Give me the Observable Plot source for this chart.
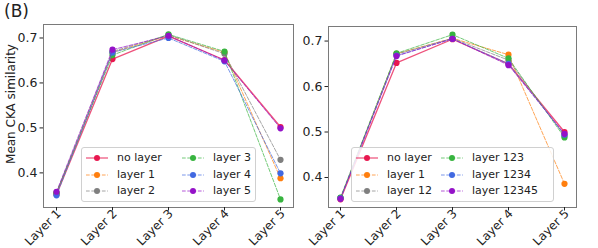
<!DOCTYPE html>
<html>
<head>
<meta charset="utf-8">
<script src="https://cdn.jsdelivr.net/npm/d3@7"></script>
<script src="https://cdn.jsdelivr.net/npm/@observablehq/plot@0.6"></script>
<style>
  html, body { margin: 0; padding: 0; background: #fff; }
  #wrap { position: relative; width: 598px; height: 248px; font-family: "DejaVu Sans", sans-serif; color: #222; overflow: hidden; }
  .panel { position: absolute; top: 0; }
  .legend { position: absolute; border: 1px solid #d0d0d0; border-radius: 3px; background: rgba(255,255,255,0.85); box-sizing: border-box; }
  .entry { position: absolute; font-size: 11px; line-height: 12px; white-space: nowrap; }
  .entry svg { position: absolute; left: 0; top: 1px; }
  .entry span { position: absolute; top: 0; }
</style>
</head>
<body>
<div id="wrap"></div>
<script>
// ---- data ----
const layers = ["Layer 1", "Layer 2", "Layer 3", "Layer 4", "Layer 5"];
const yTicks = [0.4, 0.5, 0.6, 0.7];

// left panel (single layer ablations)
const leftNames = ["no layer", "layer 1", "layer 2", "layer 3", "layer 4", "layer 5"];
const leftNoLayer = [0.352, 0.653, 0.704, 0.651, 0.502];
const leftLayer1  = [0.354, 0.668, 0.705, 0.668, 0.388];
const leftLayer2  = [0.356, 0.670, 0.707, 0.665, 0.429];
const leftLayer3  = [0.355, 0.662, 0.708, 0.670, 0.341];
const leftLayer4  = [0.350, 0.668, 0.700, 0.648, 0.399];
const leftLayer5  = [0.358, 0.674, 0.705, 0.650, 0.499];

// right panel (cumulative ablations)
const rightNames = ["no layer", "layer 1", "layer 12", "layer 123", "layer 1234", "layer 12345"];
const rightNoLayer    = [0.352, 0.652, 0.704, 0.650, 0.500];
const rightLayer1     = [0.354, 0.672, 0.706, 0.670, 0.386];
const rightLayer12    = [0.355, 0.671, 0.706, 0.658, 0.492];
const rightLayer123   = [0.356, 0.673, 0.714, 0.662, 0.488];
const rightLayer1234  = [0.354, 0.668, 0.705, 0.650, 0.494];
const rightLayer12345 = [0.353, 0.667, 0.705, 0.647, 0.496];

const colors = ["#e8174f", "#ff7f0e", "#7f7f7f", "#37b43f", "#4169e1", "#9412c8"];
const solid = [true, false, false, false, false, false];

const wrap = document.getElementById("wrap");

function table(names, series) {
  const rows = [];
  names.forEach((n, i) => series[i].forEach((v, j) => rows.push({series: n, layer: layers[j], value: v})));
  return rows;
}

function panel(names, series, opts) {
  const data = table(names, series);
  const marks = [Plot.frame({stroke: "#7a7a7a", strokeWidth: 1})];
  names.forEach((n, i) => {
    const d = data.filter(r => r.series === n);
    marks.push(Plot.line(d, {x: "layer", y: "value", stroke: colors[i], strokeOpacity: solid[i] ? 0.75 : 0.7,
      strokeWidth: solid[i] ? 1.3 : 1, strokeDasharray: solid[i] ? null : "3.7,1.6"}));
    marks.push(Plot.dot(d, {x: "layer", y: "value", fill: colors[i], r: 3.1, stroke: "none"}));
  });
  marks.push(Plot.axisY({ticks: yTicks, tickFormat: d3.format(".1f"), tickSize: 3.5, tickPadding: 2.5, fontSize: 12.5, label: null}));
  // tick marks only
  marks.push(Plot.axisX({tickSize: 3.5, tickFormat: () => "", label: null}));
  // rotated labels only
  marks.push(Plot.axisX({tickRotate: -45, tickSize: 0, tickPadding: 4.2, dx: 2.4, fontSize: 12, label: null}));
  return Plot.plot({
    width: opts.width, height: 248,
    marginLeft: opts.ml, marginRight: opts.mr, marginTop: opts.mt, marginBottom: opts.mb,
    x: {type: "point", domain: layers, padding: 0.2},
    y: {domain: opts.ydom},
    style: {fontFamily: "DejaVu Sans, sans-serif", color: "#222", background: "transparent", overflow: "visible"},
    marks
  });
}

function legend(names, box, cols) {
  const lg = document.createElement("div");
  lg.className = "legend";
  Object.assign(lg.style, {left: box.x + "px", top: box.y + "px", width: box.w + "px", height: box.h + "px"});
  names.forEach((n, i) => {
    const col = Math.floor(i / 3), row = i % 3;
    const e = document.createElement("div");
    e.className = "entry";
    e.style.left = cols[col] + "px";
    e.style.top = (4 + row * 16.6) + "px";
    const svg = d3.create("svg").attr("width", 24).attr("height", 10);
    svg.append("line").attr("x1", 0).attr("x2", 22).attr("y1", 5).attr("y2", 5)
      .attr("stroke", colors[i]).attr("stroke-opacity", 0.7).attr("stroke-width", solid[i] ? 1.3 : 1)
      .attr("stroke-dasharray", solid[i] ? null : "3.7,1.6");
    svg.append("circle").attr("cx", 11).attr("cy", 5).attr("r", 3).attr("fill", colors[i]);
    e.appendChild(svg.node());
    const s = document.createElement("span");
    s.textContent = n;
    s.style.left = "31px";
    e.appendChild(s);
    lg.appendChild(e);
  });
  return lg;
}

// left panel
const left = panel(leftNames, [leftNoLayer, leftLayer1, leftLayer2, leftLayer3, leftLayer4, leftLayer5],
  {width: 300, ml: 43, mr: 7, mt: 24, mb: 41, ydom: [0.323, 0.730]});
const lp = document.createElement("div"); lp.className = "panel"; lp.style.left = "0px";
lp.appendChild(left); wrap.appendChild(lp);

// right panel
const right = panel(rightNames, [rightNoLayer, rightLayer1, rightLayer12, rightLayer123, rightLayer1234, rightLayer12345],
  {width: 298, ml: 28, mr: 22, mt: 26, mb: 41, ydom: [0.334, 0.732]});
const rp = document.createElement("div"); rp.className = "panel"; rp.style.left = "300px";
rp.appendChild(right); wrap.appendChild(rp);

wrap.appendChild(legend(leftNames, {x: 81, y: 147, w: 175, h: 55}, [4, 100]));
wrap.appendChild(legend(rightNames, {x: 351, y: 147, w: 203, h: 55}, [4, 89]));

// y label
const yl = document.createElement("div");
yl.textContent = "Mean CKA similarity";
Object.assign(yl.style, {position: "absolute", left: "11px", top: "104px", fontSize: "12px", whiteSpace: "nowrap",
  transform: "translate(-50%,-50%) rotate(-90deg)", lineHeight: "14px"});
wrap.appendChild(yl);

// panel tag
const tag = document.createElement("div");
tag.textContent = "(B)";
Object.assign(tag.style, {position: "absolute", left: "4px", top: "1px", fontSize: "17px", lineHeight: "20px"});
wrap.appendChild(tag);
</script>
</body>
</html>
